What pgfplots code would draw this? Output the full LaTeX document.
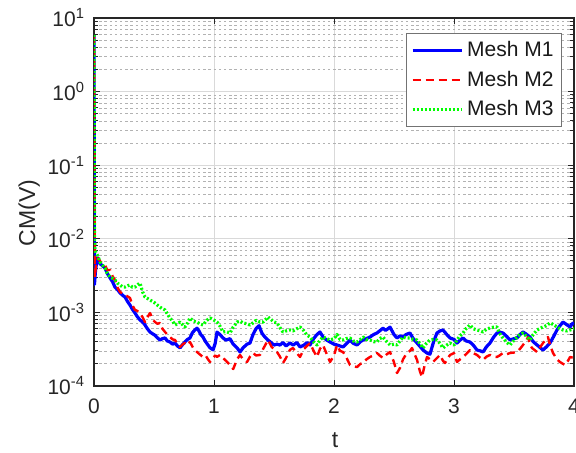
\documentclass[border=0pt]{standalone}
\usepackage{fontspec}
\setmainfont{Liberation Sans}
\usepackage{pgfplots}
\pgfplotsset{compat=1.18}

\definecolor{mblue}{rgb}{0,0,1}
\definecolor{mred}{rgb}{1,0,0}
\definecolor{mgreen}{rgb}{0,1,0}

\begin{document}
\begin{tikzpicture}
\begin{axis}[
  at={(47pt,33.5pt)}, anchor=south west,
  scale only axis, width=240pt, height=184pt,
  ymode=log, xmin=0, xmax=4, ymin=1e-4, ymax=10,
  xtick={0,1,2,3,4},
  ytick={1e-4,1e-3,1e-2,1e-1,1,10},
  yticklabels={10\textsuperscript{-4},10\textsuperscript{-3},10\textsuperscript{-2},10\textsuperscript{-1},10\textsuperscript{0},10\textsuperscript{1}},
  /pgf/number format/assume math mode=true,
  tick label style={font=\fontsize{10.5}{12}\selectfont, text=black!85},
  xticklabel style={yshift=-3pt},
  yticklabel style={xshift=-1pt},
  grid=both,
  minor x tick num=0,
  major grid style={black!15, line width=0.5pt},
  minor grid style={black!30, line width=0.35pt, dash pattern=on 1.2pt off 1.4pt},
  tick align=inside,
  major tick length=3pt, minor tick length=1.8pt,
  tick style={black!85, line width=0.5pt},
  axis line style={black!85, line width=0.6pt},
  xlabel={t}, ylabel={CM(V)},
  label style={font=\fontsize{11.5}{13}\selectfont, text=black!85},
  xlabel style={at={(axis description cs:0.502,-0.147)}, anchor=center},
  ylabel style={at={(axis description cs:-0.135,0.47)}, anchor=center},
  legend style={at={(axis description cs:0.975,0.959)}, anchor=north east,
    draw=black!55, line width=0.5pt, fill=white,
    font=\fontsize{10.5}{12}\selectfont, text=black!90,
    row sep=1.6pt, inner xsep=2pt, inner ysep=2pt},
  legend cell align=left,
  legend image code/.code={\draw[#1] (0pt,0pt) -- (24.5pt,0pt);},
  every axis plot/.append style={line join=round},
]
% Mesh M1
\addplot[mblue, line width=1.6pt] coordinates {
(0,5.9) (0.004,2.4e-3) (0.012,3.6e-3) (0.025,5.2e-3) (0.033,5.5e-3) (0.05,4.6e-3)
(0.07,4.3e-3) (0.092,4.0e-3) (0.11,3.4e-3) (0.133,2.95e-3) (0.155,2.6e-3) (0.175,2.2e-3)
(0.195,2.05e-3) (0.217,1.84e-3) (0.24,1.7e-3) (0.258,1.62e-3) (0.28,1.4e-3) (0.3,1.26e-3)
(0.32,1.1e-3) (0.342,9.8e-4) (0.36,8.8e-4) (0.383,7.9e-4) (0.405,7.4e-4) (0.425,6.75e-4)
(0.445,6.0e-4) (0.467,5.4e-4) (0.49,5.1e-4) (0.508,4.9e-4) (0.53,4.5e-4) (0.55,4.2e-4)
(0.57,4.4e-4) (0.592,4.5e-4) (0.61,4.1e-4) (0.633,3.96e-4) (0.655,3.7e-4) (0.675,3.84e-4)
(0.695,3.5e-4) (0.717,3.3e-4) (0.735,3.6e-4) (0.758,3.96e-4) (0.78,4.3e-4) (0.8,4.5e-4)
(0.82,5.3e-4) (0.842,5.8e-4) (0.858,6.1e-4) (0.875,5.6e-4) (0.89,5.0e-4) (0.908,4.63e-4)
(0.93,4.0e-4) (0.95,3.6e-4) (0.967,3.3e-4) (0.992,3.1e-4) (1.01,3.8e-4) (1.025,5.4e-4)
(1.05,5.0e-4) (1.075,4.5e-4) (1.1,4.2e-4) (1.133,4.4e-4) (1.16,3.7e-4) (1.192,3.3e-4)
(1.217,2.9e-4) (1.242,3.3e-4) (1.275,3.7e-4) (1.3,3.84e-4) (1.325,5.0e-4) (1.35,6.0e-4)
(1.375,6.6e-4) (1.4,5.2e-4) (1.425,4.6e-4) (1.45,4.2e-4) (1.467,4.0e-4) (1.5,3.6e-4)
(1.525,3.7e-4) (1.55,3.6e-4) (1.575,3.9e-4) (1.6,3.5e-4) (1.633,3.84e-4) (1.66,3.6e-4)
(1.69,3.9e-4) (1.717,3.39e-4) (1.75,3.6e-4) (1.775,3.9e-4) (1.8,3.61e-4) (1.83,4.4e-4)
(1.858,5.0e-4) (1.883,5.42e-4) (1.91,4.6e-4) (1.94,4.2e-4) (1.967,3.96e-4) (2.0,3.7e-4)
(2.025,3.61e-4) (2.05,3.5e-4) (2.075,3.39e-4) (2.1,3.7e-4) (2.133,4.22e-4) (2.16,3.8e-4)
(2.192,3.61e-4) (2.22,4.0e-4) (2.242,4.22e-4) (2.27,4.4e-4) (2.3,4.63e-4) (2.33,5.0e-4)
(2.358,5.25e-4) (2.38,5.6e-4) (2.408,6.1e-4) (2.43,5.7e-4) (2.467,6.3e-4) (2.5,5.0e-4)
(2.525,4.49e-4) (2.55,4.8e-4) (2.575,4.63e-4) (2.6,5.0e-4) (2.633,5.25e-4) (2.66,4.4e-4)
(2.692,3.84e-4) (2.72,3.4e-4) (2.742,3.08e-4) (2.775,2.8e-4) (2.8,2.7e-4) (2.83,4.0e-4)
(2.858,5.25e-4) (2.883,5.6e-4) (2.908,5.77e-4) (2.94,5.0e-4) (2.967,4.49e-4) (3.0,4.3e-4)
(3.025,3.84e-4) (3.05,4.2e-4) (3.075,4.49e-4) (3.1,4.1e-4) (3.133,3.96e-4) (3.16,3.6e-4)
(3.192,3.08e-4) (3.22,3.0e-4) (3.242,2.9e-4) (3.27,3.4e-4) (3.3,3.84e-4) (3.33,4.6e-4)
(3.358,5.25e-4) (3.38,5.4e-4) (3.408,5.25e-4) (3.44,4.7e-4) (3.467,4.22e-4) (3.5,4.4e-4)
(3.525,4.49e-4) (3.55,5.0e-4) (3.575,5.42e-4) (3.6,5.1e-4) (3.633,4.63e-4) (3.66,4.0e-4)
(3.692,3.61e-4) (3.72,3.3e-4) (3.742,3.08e-4) (3.77,3.4e-4) (3.8,3.84e-4) (3.83,4.7e-4)
(3.858,5.77e-4) (3.88,6.5e-4) (3.908,7.4e-4) (3.94,6.8e-4) (3.967,6.34e-4) (3.985,7.0e-4)
(4.0,7.2e-4)
};
\addlegendentry{Mesh M1}
% Mesh M2
\addplot[mred, line width=1.2pt, dash pattern=on 4pt off 2.5pt] coordinates {
(0,5.9) (0.006,3.0e-3) (0.017,4.4e-3) (0.033,5.48e-3) (0.05,5.0e-3) (0.07,4.6e-3)
(0.092,4.41e-3) (0.11,3.77e-3) (0.133,3.77e-3) (0.155,3.1e-3) (0.175,2.75e-3) (0.195,2.2e-3)
(0.217,1.89e-3) (0.24,1.8e-3) (0.258,1.72e-3) (0.28,1.65e-3) (0.3,1.57e-3) (0.32,1.25e-3)
(0.342,1.08e-3) (0.36,1.05e-3) (0.383,9.8e-4) (0.405,8.6e-4) (0.425,7.4e-4) (0.445,8.6e-4)
(0.467,9.8e-4) (0.49,8.0e-4) (0.508,7.4e-4) (0.53,7.0e-4) (0.55,7.2e-4) (0.57,6.0e-4)
(0.592,5.42e-4) (0.61,5.0e-4) (0.633,4.63e-4) (0.655,4.3e-4) (0.675,4.22e-4) (0.695,3.7e-4)
(0.717,3.39e-4) (0.74,3.7e-4) (0.758,3.84e-4) (0.78,3.6e-4) (0.8,3.96e-4) (0.83,3.2e-4)
(0.858,2.9e-4) (0.88,2.7e-4) (0.908,2.48e-4) (0.93,2.6e-4) (0.95,2.3e-4) (0.967,2.12e-4)
(0.99,2.4e-4) (1.01,2.6e-4) (1.025,2.48e-4) (1.05,2.64e-4) (1.075,2.4e-4) (1.1,2.2e-4)
(1.133,1.93e-4) (1.16,1.7e-4) (1.192,2.3e-4) (1.217,2.64e-4) (1.242,2.3e-4) (1.275,2.12e-4)
(1.3,2.5e-4) (1.325,2.81e-4) (1.35,2.6e-4) (1.383,2.64e-4) (1.41,3.2e-4) (1.45,4.22e-4)
(1.48,3.4e-4) (1.525,2.9e-4) (1.55,2.5e-4) (1.575,2.05e-4) (1.6,2.4e-4) (1.633,3.1e-4)
(1.658,3.28e-4) (1.69,2.8e-4) (1.717,2.48e-4) (1.75,3.2e-4) (1.8,3.84e-4) (1.83,3.0e-4)
(1.858,2.48e-4) (1.883,3.2e-4) (1.908,3.61e-4) (1.94,2.7e-4) (1.967,2.12e-4) (2.0,2.6e-4)
(2.025,3.6e-4) (2.05,3.0e-4) (2.075,2.9e-4) (2.1,2.5e-4) (2.133,1.93e-4) (2.16,1.85e-4)
(2.192,1.81e-4) (2.22,2.0e-4) (2.242,2.05e-4) (2.27,2.3e-4) (2.3,2.48e-4) (2.33,2.6e-4)
(2.358,2.81e-4) (2.38,2.6e-4) (2.408,2.4e-4) (2.44,2.7e-4) (2.467,2.9e-4) (2.5,2.1e-4)
(2.525,1.5e-4) (2.55,1.76e-4) (2.575,2.3e-4) (2.608,2.81e-4) (2.633,3.0e-4) (2.65,3.28e-4)
(2.692,2.26e-4) (2.715,1.6e-4) (2.733,1.32e-4) (2.755,1.9e-4) (2.775,2.48e-4) (2.8,2.3e-4)
(2.825,2.12e-4) (2.858,2.4e-4) (2.883,2.64e-4) (2.908,2.2e-4) (2.925,2.05e-4) (2.95,2.4e-4)
(2.967,2.64e-4) (3.0,2.8e-4) (3.025,2.12e-4) (3.05,2.3e-4) (3.075,2.48e-4) (3.1,2.7e-4)
(3.133,3.08e-4) (3.16,2.8e-4) (3.192,2.64e-4) (3.22,2.4e-4) (3.242,2.26e-4) (3.27,2.5e-4)
(3.3,2.64e-4) (3.33,2.5e-4) (3.358,2.48e-4) (3.38,2.6e-4) (3.408,2.81e-4) (3.44,2.7e-4)
(3.467,2.81e-4) (3.5,2.85e-4) (3.525,2.9e-4) (3.55,3.2e-4) (3.575,3.61e-4) (3.6,4.1e-4)
(3.617,4.63e-4) (3.635,3.6e-4) (3.65,3.28e-4) (3.692,2.9e-4) (3.72,3.4e-4) (3.742,3.84e-4)
(3.765,4.2e-4) (3.783,4.63e-4) (3.8,3.6e-4) (3.825,2.81e-4) (3.858,2.3e-4) (3.883,2.12e-4)
(3.908,2.0e-4) (3.925,1.93e-4) (3.95,2.2e-4) (3.967,2.48e-4) (4.0,2.4e-4)
};
\addlegendentry{Mesh M2}
% Mesh M3
\addplot[mgreen, line width=1.6pt, dash pattern=on 1pt off 1pt] coordinates {
(0,5.9) (0.004,1.0e-2) (0.008,7.0e-3) (0.017,6.41e-3) (0.033,5.8e-3) (0.05,4.84e-3)
(0.07,4.4e-3) (0.092,4.01e-3) (0.11,3.4e-3) (0.133,3.03e-3) (0.155,2.9e-3) (0.175,2.75e-3)
(0.195,2.5e-3) (0.217,2.36e-3) (0.24,2.2e-3) (0.258,2.21e-3) (0.28,2.3e-3) (0.3,2.36e-3)
(0.32,2.2e-3) (0.342,2.21e-3) (0.36,2.35e-3) (0.383,2.51e-3) (0.405,1.9e-3) (0.425,1.62e-3)
(0.445,1.55e-3) (0.467,1.47e-3) (0.49,1.4e-3) (0.508,1.34e-3) (0.53,1.25e-3) (0.55,1.18e-3)
(0.57,1.12e-3) (0.592,1.08e-3) (0.61,9.6e-4) (0.633,8.4e-4) (0.655,7.6e-4) (0.675,6.75e-4)
(0.695,7.0e-4) (0.717,7.4e-4) (0.735,6.9e-4) (0.758,6.34e-4) (0.78,7.2e-4) (0.8,8.4e-4)
(0.83,7.6e-4) (0.858,7.4e-4) (0.88,7.0e-4) (0.908,6.75e-4) (0.94,7.8e-4) (0.967,8.4e-4)
(0.992,8.0e-4) (1.025,7.4e-4) (1.05,6.5e-4) (1.075,5.42e-4) (1.1,5.5e-4) (1.133,5.25e-4)
(1.16,6.3e-4) (1.192,7.4e-4) (1.217,7.6e-4) (1.242,7.2e-4) (1.275,7.0e-4) (1.3,6.75e-4)
(1.325,7.2e-4) (1.35,7.8e-4) (1.383,7.4e-4) (1.408,7.4e-4) (1.43,8.0e-4) (1.45,8.65e-4)
(1.475,8.0e-4) (1.5,7.4e-4) (1.525,7.2e-4) (1.55,6.2e-4) (1.575,5.42e-4) (1.6,5.6e-4)
(1.633,5.77e-4) (1.658,5.6e-4) (1.69,6.0e-4) (1.717,6.34e-4) (1.75,5.6e-4) (1.775,4.9e-4)
(1.8,4.63e-4) (1.83,4.0e-4) (1.858,3.61e-4) (1.883,4.2e-4) (1.908,4.63e-4) (1.94,4.4e-4)
(1.967,4.22e-4) (2.0,4.4e-4) (2.025,5.0e-4) (2.05,4.3e-4) (2.075,4.22e-4) (2.1,4.4e-4)
(2.133,4.49e-4) (2.16,4.1e-4) (2.192,3.96e-4) (2.22,4.3e-4) (2.242,4.63e-4) (2.27,4.3e-4)
(2.3,4.22e-4) (2.33,4.0e-4) (2.358,3.96e-4) (2.38,4.4e-4) (2.408,4.63e-4) (2.44,4.0e-4)
(2.467,3.61e-4) (2.5,3.7e-4) (2.525,3.61e-4) (2.55,4.1e-4) (2.575,4.63e-4) (2.6,4.5e-4)
(2.633,4.49e-4) (2.66,4.3e-4) (2.692,4.22e-4) (2.72,3.7e-4) (2.742,3.28e-4) (2.77,3.8e-4)
(2.8,4.22e-4) (2.83,4.3e-4) (2.858,4.22e-4) (2.883,3.8e-4) (2.908,3.28e-4) (2.94,3.6e-4)
(2.967,3.84e-4) (3.0,3.6e-4) (3.025,4.22e-4) (3.05,4.8e-4) (3.075,5.25e-4) (3.1,6.0e-4)
(3.133,6.75e-4) (3.16,6.0e-4) (3.192,5.77e-4) (3.22,5.6e-4) (3.242,5.42e-4) (3.27,5.9e-4)
(3.3,6.14e-4) (3.33,6.3e-4) (3.358,6.34e-4) (3.38,5.2e-4) (3.408,4.49e-4) (3.44,3.9e-4)
(3.467,3.61e-4) (3.5,4.2e-4) (3.525,4.63e-4) (3.55,5.0e-4) (3.575,5.25e-4) (3.6,4.8e-4)
(3.633,4.22e-4) (3.66,5.0e-4) (3.692,5.77e-4) (3.72,6.1e-4) (3.742,6.34e-4) (3.77,6.6e-4)
(3.8,7.2e-4) (3.83,6.8e-4) (3.858,6.34e-4) (3.883,6.0e-4) (3.908,5.77e-4) (3.94,5.6e-4)
(3.967,5.77e-4) (4.0,6.0e-4)
};
\addlegendentry{Mesh M3}
\end{axis}
\pgfresetboundingbox
\useasboundingbox (0pt,0pt) rectangle (288pt,226.5pt);
\end{tikzpicture}
\end{document}
